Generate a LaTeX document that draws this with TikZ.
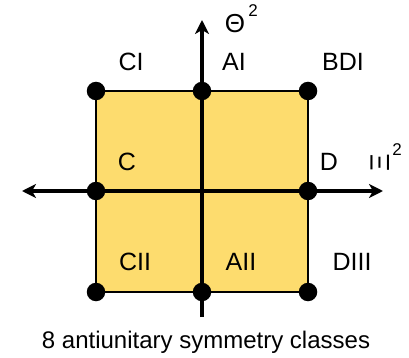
\documentclass[tikz,border=0pt]{standalone}
\usepackage{fontspec}
\setmainfont{Liberation Sans}
\usetikzlibrary{arrows.meta, backgrounds}
\definecolor{classfill}{RGB}{253,220,110}

\begin{document}
\begin{tikzpicture}
[every node/.style={inner sep=0pt},
 dot/.style={circle, minimum size=18.5pt, fill=black},
 lbl/.style={font=\fontsize{25}{28}\selectfont},
 sup/.style={font=\fontsize{17}{19}\selectfont},
 tip/.style={-{Stealth[length=14pt, width=14pt, inset=4pt]}},
 axis/.style={line width=4pt}]
\useasboundingbox (0pt, 0pt) rectangle (409pt, -358pt);
% corners and edge midpoints of the square
\node (tl) [dot] at (96pt, -91pt) {};
\node (tm) [dot] at (202pt, -91pt) {};
\node (tr) [dot] at (308pt, -91pt) {};
\node (ml) [dot] at (96pt, -191pt) {};
\node (mr) [dot] at (308pt, -191pt) {};
\node (bl) [dot] at (96pt, -292pt) {};
\node (bm) [dot] at (202pt, -292pt) {};
\node (br) [dot] at (308pt, -292pt) {};
% axis ends
\coordinate (xl) at (22pt, -191pt);
\coordinate (xr) at (383pt, -191pt);
\coordinate (yb) at (202pt, -317pt);
\coordinate (yt) at (202pt, -20pt);
\begin{scope}[on background layer]
\draw [line width=1.25pt, fill=classfill] (tl.center) -- (tm.center) -- (tr.center) -- (mr.center) -- (br.center) -- (bm.center) -- (bl.center) -- (ml.center) -- cycle;
\draw [axis, {Stealth[length=14pt, width=14pt, inset=4pt]}-{Stealth[length=14pt, width=14pt, inset=4pt]}] (xl) -- (xr);
\draw [axis, tip] (yb) -- (yt);
\end{scope}
% class labels
\node (CI) [lbl] at (131pt, -62pt) {CI};
\node (AI) [lbl] at (234pt, -62pt) {AI};
\node (BDI) [lbl] at (343pt, -62pt) {BDI};
\node (C) [lbl] at (127pt, -162pt) {C};
\node (D) [lbl] at (329pt, -162pt) {D};
\node (CII) [lbl] at (135pt, -262pt) {CII};
\node (AII) [lbl] at (241pt, -262pt) {AII};
\node (DIII) [lbl] at (352pt, -262pt) {DIII};
% axis names
\node (theta) [font=\fontsize{26}{28}\selectfont] at (235pt, -24pt) {Θ};
\node (theta2) [sup] at (253pt, -11pt) {2};
\node (xi) [font=\fontsize{27}{29}\selectfont, rotate=90] at (380pt, -163pt) {Ξ};
\node (xi2) [sup] at (397pt, -150pt) {2};
% caption
\node (caption) [font=\fontsize{24}{28}\selectfont] at (206pt, -342pt) {8 antiunitary symmetry classes};
\end{tikzpicture}
\end{document}
